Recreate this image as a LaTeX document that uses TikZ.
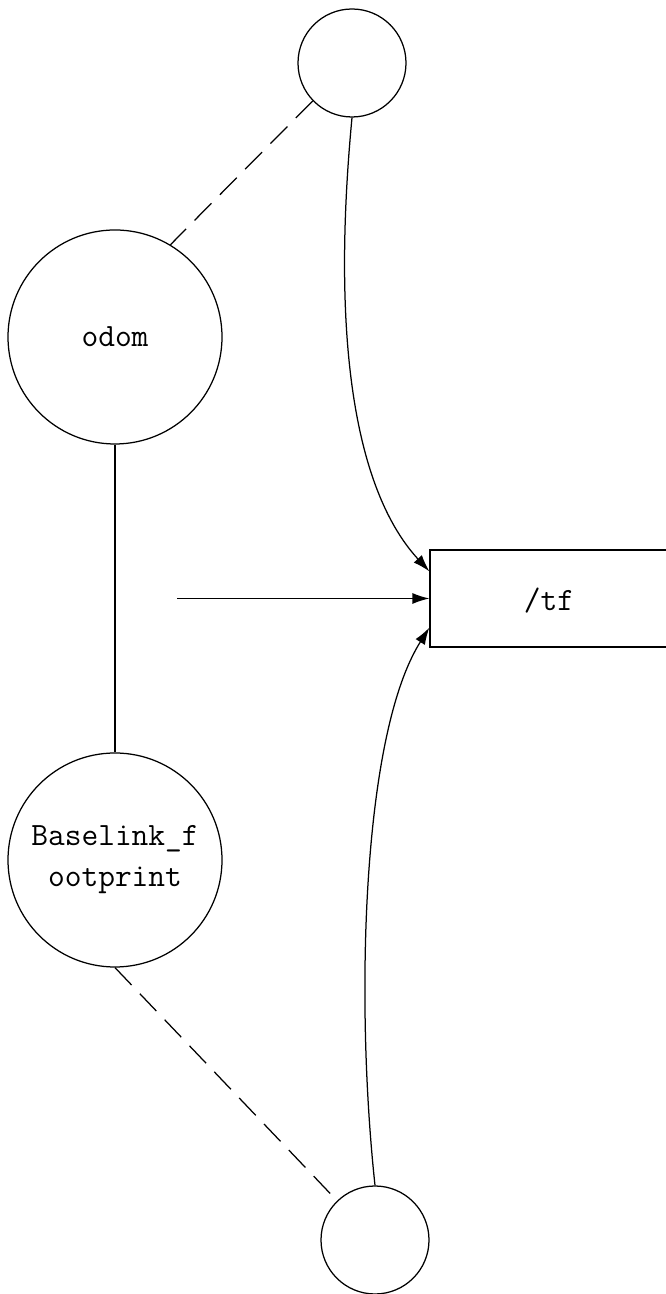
\documentclass[tikz,border=0pt]{standalone}
\usetikzlibrary{arrows.meta}
\begin{document}
\begin{tikzpicture}[x=1pt,y=1pt,
  every path/.style={line width=1.25pt},
  bigcirc/.style={circle,draw,minimum size=214pt,inner sep=0pt,align=center,
    font=\ttfamily\fontsize{32.5}{41}\selectfont},
  smallcirc/.style={circle,draw,minimum size=108pt,inner sep=0pt},
  topicbox/.style={rectangle,draw,minimum width=250pt,minimum height=97pt,inner sep=0pt},
  tip/.style={-{Latex[length=17pt,width=11pt]}},
  dashline/.style={dash pattern=on 24pt off 12pt}]
\useasboundingbox (0,0) rectangle (666,1294);
\node[smallcirc] (top) at (352,1231) {};
\node[bigcirc] (odom) at (115,957) {odom};
\node[bigcirc] (base) at (115,434) {Baselink\_f\\ootprint};
\node[smallcirc] (bot) at (375,54) {};
\node[topicbox] (tf) at (555,695.5) {};
\node[font=\ttfamily\fontsize{32.5}{41}\selectfont] (tflabel) at (549,693) {/tf};
\coordinate (src) at (177,695.5);
\draw[dashline] (top.224) -- (odom.59);
\draw (odom.south) -- (base.north);
\draw[dashline] (base.south) -- (bot.134);
\draw[tip] (src) -- (tf.west);
\draw[tip] (top.south) .. controls (330,944) and (358,800) .. ([yshift=-22pt]tf.north west);
\draw[tip] (bot.north) .. controls (355,294) and (362,560) .. ([yshift=20pt]tf.south west);
\end{tikzpicture}
\end{document}
